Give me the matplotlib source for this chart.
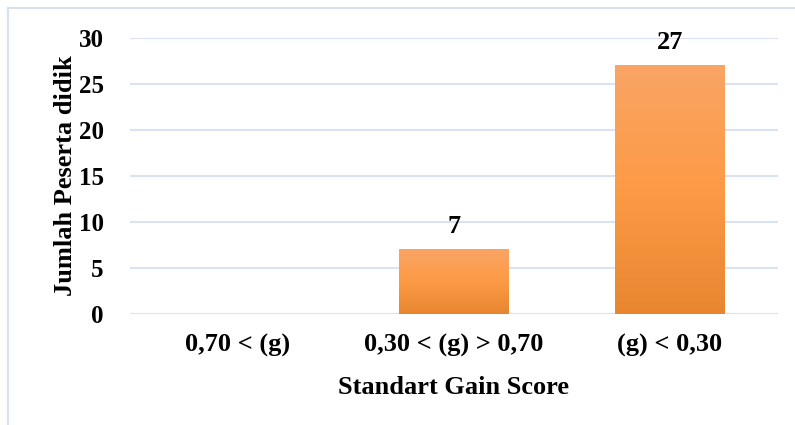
import numpy as np
import matplotlib.pyplot as plt
from matplotlib.colors import LinearSegmentedColormap
from matplotlib.patches import Rectangle

categories = ['0,70 < (g)', '0,30 < (g) > 0,70', '(g) < 0,30']
values = [0, 7, 27]
yticks = [0, 5, 10, 15, 20, 25, 30]

plt.rcParams['font.family'] = ['Liberation Serif', 'DejaVu Serif']
plt.rcParams['font.weight'] = 'bold'

fig = plt.figure(figsize=(7.95, 4.25), dpi=100)
ax = fig.add_axes([130/795, 1 - 314/425, 648/795, 276/425])

# frame around the chart
fig.patches.append(Rectangle((8/795, -0.02), 1.2, 1 - 8/425 + 0.02, transform=fig.transFigure,
                             fill=False, edgecolor='#d6e1f0', linewidth=1.5))

grad = LinearSegmentedColormap.from_list('g', ['#e8852f', '#fd9a45', '#f9a565'])
x = np.arange(len(categories))
width = 0.505
bars = ax.bar(x, values, width=width, color='none', edgecolor='none', zorder=3)
for b, v in zip(bars, values):
    if v <= 0:
        continue
    x0 = b.get_x()
    img = np.linspace(0, 1, 256).reshape(-1, 1)
    ax.imshow(img, cmap=grad, origin='lower', aspect='auto',
              extent=[x0, x0 + b.get_width(), 0, v], zorder=3)
    ax.text(b.get_x() + b.get_width() / 2, v + 1.3, str(v), ha='center', va='bottom',
            fontsize=19, fontweight='bold')

ax.set_xlim(-0.5, 2.5)
ax.set_ylim(0, 30)
ax.set_yticks(yticks)
ax.set_xticks(x)
ax.set_xticklabels(categories)
ax.tick_params(axis='y', length=0, labelsize=18, pad=19)
ax.tick_params(axis='x', length=0, labelsize=19, pad=14)
ax.grid(axis='y', color='#d9e3f3', linewidth=1.5, zorder=0)
ax.set_axisbelow(True)
for s in ax.spines.values():
    s.set_visible(False)

ax.set_xlabel('Standart Gain Score', fontsize=19, fontweight='bold', labelpad=14)
ax.set_ylabel('Jumlah Peserta didik', fontsize=19, fontweight='bold', labelpad=1)

fig.savefig('out.png', dpi=100)
